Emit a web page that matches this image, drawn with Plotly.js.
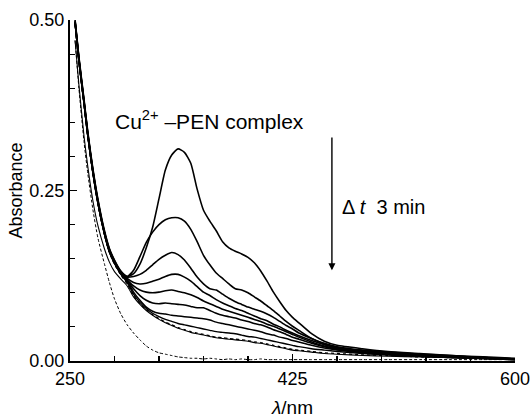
<!DOCTYPE html>
<html>
<head>
<meta charset="utf-8">
<script src="https://cdn.plot.ly/plotly-3.0.1.min.js"></script>
<style>html,body{margin:0;padding:0;background:#fff;}#chart{width:532px;height:418px;}</style>
</head>
<body>
<div id="chart"></div>
<script>
// Wavelength grid (nm), shared by all spectra
const wavelength = [254, 257, 261, 264, 268, 272, 277, 281, 285, 290,
  295, 300, 305, 310, 315, 320, 325, 330, 335, 340,
  345, 350, 355, 360, 365, 370, 375, 380, 385, 390,
  395, 400, 405, 410, 415, 420, 425, 430, 440, 450,
  460, 480, 500, 525, 550, 575, 600];

// Spectra recorded every 3 min (absorbance), top to bottom
const scan1 = [0.500, 0.446, 0.384, 0.336, 0.282, 0.237, 0.192, 0.165, 0.148, 0.132,
  0.124, 0.128, 0.142, 0.166, 0.196, 0.238, 0.280, 0.302, 0.311, 0.306,
  0.290, 0.252, 0.221, 0.205, 0.191, 0.175, 0.166, 0.161, 0.157, 0.152,
  0.144, 0.132, 0.117, 0.101, 0.087, 0.074, 0.064, 0.056, 0.040, 0.029,
  0.023, 0.018, 0.014, 0.011, 0.008, 0.006, 0.004];
const scan2 = [0.499, 0.444, 0.382, 0.334, 0.280, 0.235, 0.190, 0.164, 0.147, 0.131,
  0.124, 0.133, 0.153, 0.174, 0.189, 0.200, 0.207, 0.210, 0.210, 0.205,
  0.193, 0.175, 0.155, 0.141, 0.129, 0.121, 0.113, 0.106, 0.104, 0.100,
  0.094, 0.088, 0.081, 0.074, 0.066, 0.058, 0.051, 0.045, 0.033, 0.026,
  0.021, 0.016, 0.013, 0.010, 0.008, 0.005, 0.003];
const scan3 = [0.498, 0.443, 0.381, 0.333, 0.279, 0.234, 0.189, 0.163, 0.146, 0.130,
  0.123, 0.124, 0.127, 0.133, 0.141, 0.149, 0.155, 0.159, 0.156, 0.148,
  0.136, 0.123, 0.113, 0.106, 0.104, 0.098, 0.092, 0.087, 0.083, 0.079,
  0.076, 0.073, 0.069, 0.064, 0.058, 0.052, 0.047, 0.041, 0.033, 0.025,
  0.020, 0.015, 0.012, 0.009, 0.007, 0.005, 0.003];
const scan4 = [0.497, 0.442, 0.380, 0.332, 0.278, 0.233, 0.189, 0.162, 0.145, 0.130,
  0.121, 0.115, 0.113, 0.114, 0.117, 0.120, 0.124, 0.127, 0.127, 0.123,
  0.117, 0.109, 0.101, 0.096, 0.090, 0.085, 0.081, 0.077, 0.074, 0.070,
  0.066, 0.062, 0.059, 0.054, 0.050, 0.045, 0.041, 0.037, 0.030, 0.024,
  0.019, 0.014, 0.011, 0.009, 0.007, 0.005, 0.003];
const scan5 = [0.497, 0.441, 0.379, 0.331, 0.277, 0.232, 0.188, 0.161, 0.145, 0.129,
  0.119, 0.110, 0.104, 0.101, 0.100, 0.101, 0.103, 0.104, 0.102, 0.100,
  0.097, 0.093, 0.088, 0.084, 0.080, 0.076, 0.073, 0.070, 0.067, 0.064,
  0.061, 0.058, 0.054, 0.051, 0.047, 0.043, 0.039, 0.035, 0.028, 0.022,
  0.018, 0.013, 0.010, 0.008, 0.006, 0.004, 0.003];
const scan6 = [0.496, 0.441, 0.379, 0.331, 0.277, 0.232, 0.188, 0.161, 0.144, 0.129,
  0.118, 0.106, 0.096, 0.089, 0.085, 0.084, 0.085, 0.084, 0.083, 0.082,
  0.080, 0.078, 0.078, 0.074, 0.070, 0.067, 0.065, 0.063, 0.060, 0.058,
  0.055, 0.053, 0.050, 0.046, 0.043, 0.039, 0.035, 0.032, 0.026, 0.021,
  0.017, 0.013, 0.010, 0.008, 0.006, 0.004, 0.002];
const scan7 = [0.496, 0.440, 0.378, 0.330, 0.276, 0.231, 0.187, 0.160, 0.144, 0.128,
  0.117, 0.101, 0.089, 0.079, 0.073, 0.070, 0.069, 0.067, 0.066, 0.065,
  0.064, 0.063, 0.062, 0.060, 0.057, 0.055, 0.053, 0.051, 0.049, 0.047,
  0.045, 0.043, 0.040, 0.038, 0.035, 0.033, 0.030, 0.028, 0.023, 0.019,
  0.016, 0.012, 0.009, 0.007, 0.005, 0.004, 0.002];
const scan8 = [0.495, 0.440, 0.378, 0.330, 0.276, 0.231, 0.187, 0.160, 0.143, 0.127,
  0.115, 0.098, 0.086, 0.077, 0.070, 0.065, 0.061, 0.058, 0.055, 0.053,
  0.051, 0.049, 0.047, 0.045, 0.043, 0.042, 0.041, 0.040, 0.038, 0.036,
  0.035, 0.033, 0.031, 0.029, 0.027, 0.025, 0.023, 0.021, 0.018, 0.016,
  0.014, 0.011, 0.009, 0.007, 0.005, 0.004, 0.002];
const scan9 = [0.494, 0.439, 0.377, 0.329, 0.275, 0.230, 0.186, 0.159, 0.142, 0.126,
  0.113, 0.096, 0.084, 0.075, 0.068, 0.062, 0.057, 0.053, 0.049, 0.046,
  0.043, 0.041, 0.039, 0.037, 0.035, 0.034, 0.033, 0.032, 0.031, 0.030,
  0.028, 0.027, 0.025, 0.023, 0.021, 0.019, 0.017, 0.016, 0.014, 0.012,
  0.011, 0.009, 0.008, 0.006, 0.005, 0.004, 0.003];
const scan10 = [0.470, 0.405, 0.330, 0.285, 0.235, 0.198, 0.165, 0.145, 0.131, 0.120,
  0.110, 0.094, 0.083, 0.074, 0.067, 0.061, 0.056, 0.052, 0.048, 0.045,
  0.042, 0.040, 0.038, 0.036, 0.034, 0.033, 0.032, 0.031, 0.030, 0.029,
  0.027, 0.026, 0.024, 0.022, 0.020, 0.018, 0.016, 0.015, 0.013, 0.011,
  0.010, 0.008, 0.007, 0.006, 0.005, 0.003, 0.002];
// Free ligand (dashed)
const ligand = [0.470, 0.400, 0.322, 0.275, 0.222, 0.180, 0.143, 0.115, 0.091, 0.069,
  0.053, 0.041, 0.031, 0.022, 0.016, 0.012, 0.010, 0.008, 0.006, 0.005,
  0.004, 0.004, 0.003, 0.004, 0.003, 0.002, 0.003, 0.002, 0.003, 0.002,
  0.002, 0.003, 0.002, 0.002, 0.002, 0.002, 0.002, 0.002, 0.002, 0.002,
  0.002, 0.002, 0.002, 0.002, 0.002, 0.002, 0.002];

const xTickLabels = ['250', '425', '600'];
const yTickLabels = ['0.00', '0.25', '0.50'];

const FONT = '"Liberation Sans", Arial, Helvetica, sans-serif';

function solid(y, w) {
  return {x: wavelength, y: y, type: 'scatter', mode: 'lines',
    line: {color: '#000', width: w, shape: 'spline', smoothing: 0.6},
    hoverinfo: 'skip', showlegend: false};
}
const traces = [
  solid(scan1, 1.6), solid(scan2, 1.6), solid(scan3, 1.6), solid(scan4, 1.6),
  solid(scan5, 1.6), solid(scan6, 1.6), solid(scan7, 1.5), solid(scan8, 1.4),
  {x: wavelength, y: scan9, type: 'scatter', mode: 'lines',
    line: {color: '#000', width: 1.3, dash: 'dot', shape: 'spline', smoothing: 0.6},
    hoverinfo: 'skip', showlegend: false},
  solid(scan10, 1.1),
  {x: wavelength, y: ligand, type: 'scatter', mode: 'lines',
    line: {color: '#000', width: 1, dash: '3px,2px', shape: 'spline', smoothing: 0.6},
    hoverinfo: 'skip', showlegend: false}
];

const layout = {
  width: 532, height: 418,
  margin: {l: 70, r: 17, t: 20, b: 57},
  paper_bgcolor: '#fff', plot_bgcolor: '#fff',
  font: {family: FONT, color: '#000', size: 18},
  showlegend: false,
  xaxis: {
    range: [250, 600], tickmode: 'array', tickvals: [250, 425, 600], ticktext: xTickLabels,
    ticks: 'inside', ticklen: 7, tickwidth: 1.5, tickcolor: '#000',
    minor: {tickmode: 'array', tickvals: [285, 320, 355, 390, 460, 495, 530, 565],
      ticks: 'inside', ticklen: 5, tickwidth: 1.2, tickcolor: '#000'},
    showline: true, linewidth: 2, linecolor: '#000', mirror: false,
    showgrid: false, zeroline: false, automargin: false,
    tickfont: {size: 18, family: FONT},
    title: {text: '<i>λ</i>/nm', font: {size: 19, family: FONT}, standoff: 14}
  },
  yaxis: {
    range: [0, 0.5], tickmode: 'array', tickvals: [0, 0.25, 0.5], ticktext: yTickLabels,
    ticks: 'inside', ticklen: 7, tickwidth: 1.5, tickcolor: '#000',
    minor: {tickmode: 'array', tickvals: [0.05, 0.10, 0.15, 0.20, 0.30, 0.35, 0.40, 0.45],
      ticks: 'inside', ticklen: 5, tickwidth: 1.2, tickcolor: '#000'},
    showline: true, linewidth: 2, linecolor: '#000', mirror: false,
    showgrid: false, zeroline: false, automargin: false,
    tickfont: {size: 18, family: FONT},
    title: {text: 'Absorbance', font: {size: 18, family: FONT}, standoff: 2}
  },
  annotations: [
    {x: 284, y: 0.353, xref: 'x', yref: 'y', xanchor: 'left', yanchor: 'middle',
      text: 'Cu<sup>2+</sup> –PEN complex', showarrow: false, font: {size: 21, family: FONT}},
    {x: 456, y: 0.133, ax: 456, ay: 0.330, xref: 'x', yref: 'y', axref: 'x', ayref: 'y',
      text: '', showarrow: true, arrowhead: 2, arrowsize: 1, arrowwidth: 1.4, arrowcolor: '#000'},
    {x: 462, y: 0.226, xref: 'x', yref: 'y', xanchor: 'left', yanchor: 'middle',
      text: 'Δ <i>t</i>  3 min', showarrow: false, font: {size: 20, family: FONT}}
  ]
};

Plotly.newPlot('chart', traces, layout, {displayModeBar: false, staticPlot: true});
</script>
</body>
</html>
